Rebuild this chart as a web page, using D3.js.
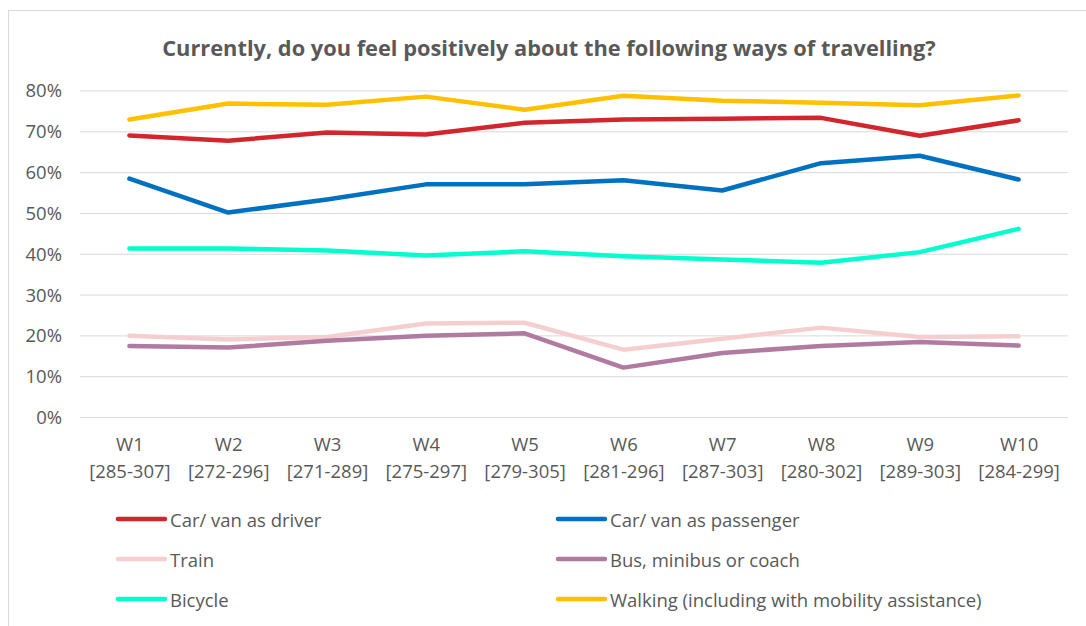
<!DOCTYPE html>
<html>
<head>
<meta charset="utf-8">
<script src="https://cdn.jsdelivr.net/npm/d3@7"></script>
<style>
  html, body { margin: 0; padding: 0; background: #fff; }
  svg { display: block; font-family: "Open Sans", "Noto Sans", sans-serif; }
</style>
</head>
<body>
<svg id="chart" width="1086" height="626"></svg>
<script>
const title = "Currently, do you feel positively about the following ways of travelling?";
const waves = ["W1", "W2", "W3", "W4", "W5", "W6", "W7", "W8", "W9", "W10"];
const ranges = ["[285-307]", "[272-296]", "[271-289]", "[275-297]", "[279-305]", "[281-296]", "[287-303]", "[280-302]", "[289-303]", "[284-299]"];
const yTicks = [0, 0.1, 0.2, 0.3, 0.4, 0.5, 0.6, 0.7, 0.8];

const seriesNames = ["Car/ van as driver", "Car/ van as passenger", "Train", "Bus, minibus or coach", "Bicycle", "Walking (including with mobility assistance)"];
const carDriver    = [0.690, 0.677, 0.697, 0.692, 0.721, 0.729, 0.731, 0.733, 0.689, 0.727];
const carPassenger = [0.584, 0.501, 0.533, 0.570, 0.570, 0.580, 0.555, 0.622, 0.640, 0.582];
const train        = [0.199, 0.190, 0.196, 0.229, 0.231, 0.165, 0.192, 0.219, 0.196, 0.198];
const bus          = [0.174, 0.170, 0.187, 0.199, 0.205, 0.121, 0.157, 0.174, 0.184, 0.175];
const bicycle      = [0.413, 0.413, 0.408, 0.396, 0.406, 0.394, 0.386, 0.378, 0.404, 0.461];
const walking      = [0.729, 0.768, 0.765, 0.785, 0.753, 0.787, 0.775, 0.770, 0.764, 0.788];
const seriesColors = ["#D3262C", "#0070C0", "#F5CFCF", "#B07AA1", "#00FFCC", "#FFC000"];

const seriesData = [carDriver, carPassenger, train, bus, bicycle, walking];
const drawOrder = [2, 3, 4, 1, 0, 5];

const svg = d3.select("#chart");
const textColor = "#595959";

// frame
svg.append("rect")
  .attr("x", 8.5).attr("y", 10.5)
  .attr("width", 1100).attr("height", 700)
  .attr("fill", "#fff").attr("stroke", "#d9d9d9").attr("stroke-width", 1);

const x = d3.scalePoint().domain(waves).range([80, 1068]).padding(0.5);
const y = d3.scaleLinear().domain([0, 0.8]).range([417, 90.5]);

// title
svg.append("text")
  .attr("x", 549).attr("y", 47)
  .attr("text-anchor", "middle").attr("dominant-baseline", "central")
  .attr("fill", textColor).attr("font-weight", "bold").attr("font-size", 21.8)
  .text(title);

// gridlines
const grid = svg.append("g")
  .attr("transform", "translate(80,0)")
  .call(d3.axisLeft(y).tickValues(yTicks).tickSize(-(1068 - 80)).tickFormat(""));
grid.select(".domain").remove();
grid.selectAll(".tick line").attr("stroke", "#d9d9d9").attr("stroke-width", 1);

// y labels
const yAxis = svg.append("g")
  .attr("transform", "translate(62,0)")
  .call(d3.axisLeft(y).tickValues(yTicks).tickSize(0).tickPadding(0).tickFormat(d3.format(".0%")));
yAxis.select(".domain").remove();
yAxis.selectAll("text")
  .attr("fill", textColor).attr("font-size", 18.5)
  .attr("font-family", "'Open Sans', sans-serif")
  .attr("dy", "0.35em");

// x labels
const xAxis = svg.append("g")
  .attr("transform", "translate(0,430)")
  .call(d3.axisBottom(x).tickSize(0).tickPadding(0));
xAxis.select(".domain").remove();
xAxis.selectAll(".tick text").remove();
xAxis.selectAll(".tick").each(function(d, i) {
  const t = d3.select(this).append("text")
    .attr("fill", textColor).attr("font-size", 18.5)
    .attr("font-family", "'Open Sans', sans-serif")
    .attr("text-anchor", "middle");
  t.append("tspan").attr("x", 0).attr("y", 13).attr("dominant-baseline", "central").text(d);
  t.append("tspan").attr("x", 0).attr("y", 40).attr("dominant-baseline", "central").text(ranges[i]);
});

// lines
const line = d3.line()
  .x((d, i) => x(waves[i]))
  .y(d => y(d));

svg.append("g").selectAll("path")
  .data(drawOrder)
  .join("path")
  .attr("d", k => line(seriesData[k]))
  .attr("fill", "none")
  .attr("stroke", k => seriesColors[k])
  .attr("stroke-width", 4.5)
  .attr("stroke-linejoin", "round")
  .attr("stroke-linecap", "round");

// legend
const legendCols = [116, 556];
const legendRows = [519, 559, 599];
const legend = svg.append("g");
seriesNames.forEach((name, i) => {
  const lx = legendCols[i % 2];
  const ly = legendRows[Math.floor(i / 2)];
  const g = legend.append("g").attr("transform", `translate(${lx},${ly})`);
  g.append("line")
    .attr("x1", 2).attr("x2", 49).attr("y1", 0).attr("y2", 0)
    .attr("stroke", seriesColors[i]).attr("stroke-width", 4.5).attr("stroke-linecap", "round");
  g.append("text")
    .attr("x", 54).attr("y", 0).attr("dominant-baseline", "central")
    .attr("fill", textColor).attr("font-size", 18.5)
    .text(name);
});
</script>
</body>
</html>
